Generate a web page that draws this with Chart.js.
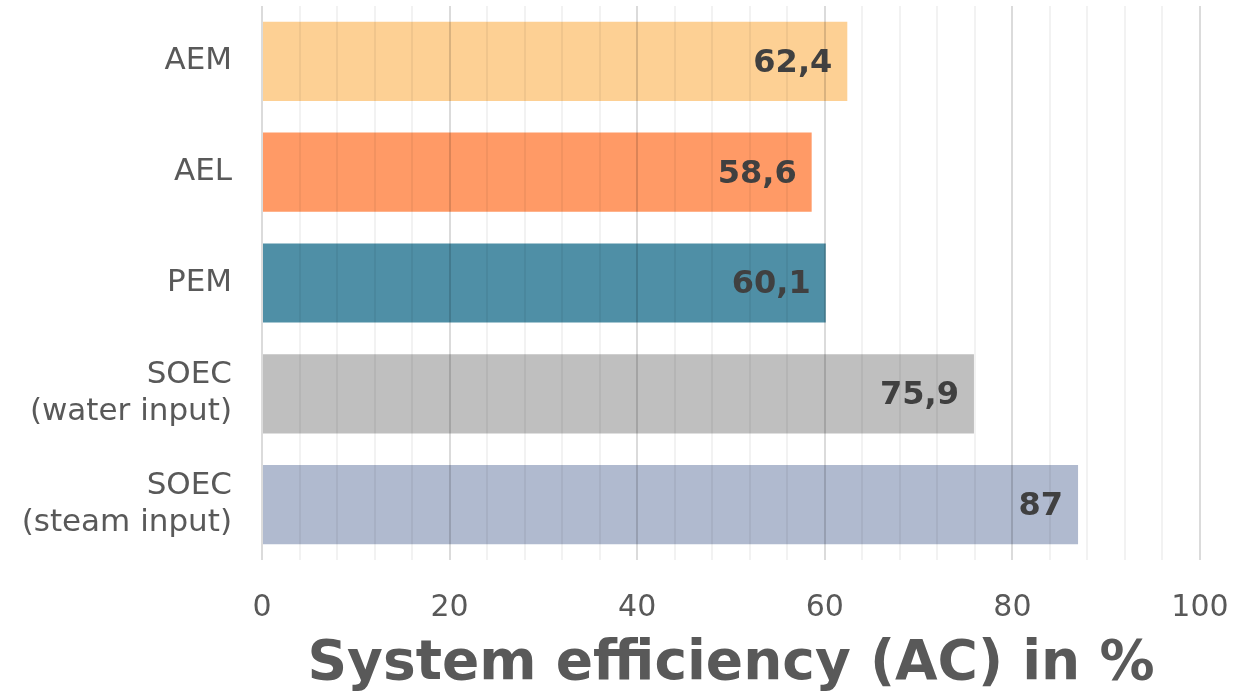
<!DOCTYPE html>
<html>
<head>
<meta charset="utf-8">
<script src="https://cdn.jsdelivr.net/npm/chart.js@4/dist/chart.umd.min.js"></script>
<style>
  html, body { margin: 0; padding: 0; background: #fff; }
  #wrap { width: 1233px; height: 694px; position: relative; }
</style>
</head>
<body>
<div id="wrap"><canvas id="c" width="1233" height="694"></canvas></div>
<script>
// Electrolyser technologies and their system efficiency (AC basis)
const categories = [
  ['AEM'],
  ['AEL'],
  ['PEM'],
  ['SOEC', '(water input)'],
  ['SOEC', '(steam input)']
];
const efficiency = [62.4, 58.6, 60.1, 75.9, 87];
const barColors = ['#FDD094', '#FF9A66', '#4F8FA6', '#BFBFBF', '#B0BACF'];
const xTicks = [0, 20, 40, 60, 80, 100];

const FONT = "'DejaVu Sans', Verdana, sans-serif";
const TEXT = '#595959';

// Value written inside the end of each bar, decimal comma
const valueLabels = {
  id: 'valueLabels',
  afterDraw(chart) {
    const ctx = chart.ctx;
    const meta = chart.getDatasetMeta(0);
    ctx.save();
    ctx.font = 'bold 32px ' + FONT;
    ctx.fillStyle = '#404040';
    ctx.textAlign = 'right';
    ctx.textBaseline = 'middle';
    meta.data.forEach((bar, i) => {
      const txt = String(efficiency[i]).replace('.', ',');
      ctx.fillText(txt, bar.x - 15, bar.y + 2);
    });
    ctx.restore();
  }
};

new Chart(document.getElementById('c'), {
  type: 'bar',
  data: {
    labels: categories,
    datasets: [{
      data: efficiency,
      backgroundColor: barColors,
      borderWidth: 0,
      barPercentage: 1,
      categoryPercentage: 0.715
    }]
  },
  options: {
    indexAxis: 'y',
    responsive: false,
    animation: false,
    layout: { padding: { top: 6, right: 33, bottom: 0, left: 0 } },
    plugins: { legend: { display: false }, tooltip: { enabled: false } },
    scales: {
      x: {
        min: 0,
        max: 100,
        afterFit: (s) => { s.height = 134; s.paddingLeft = 0; s.paddingRight = 0; },
        ticks: {
          stepSize: 4,
          autoSkip: false,
          maxRotation: 0,
          color: TEXT,
          font: { family: FONT, size: 30 },
          padding: 30,
          callback: (v) => xTicks.includes(v) ? String(v) : ''
        },
        grid: {
          z: 1,
          drawTicks: false,
          color: (c) => (c.tick && c.tick.value % 20 === 0) ? 'rgba(0,0,0,0.14)' : 'rgba(0,0,0,0.05)',
          lineWidth: 2
        },
        border: { display: false },
        title: {
          display: true,
          text: 'System efficiency (AC) in %',
          color: TEXT,
          font: { family: FONT, size: 55, weight: 'bold', lineHeight: 1.05 },
          padding: { top: 0, bottom: 0 }
        }
      },
      y: {
        afterFit: (s) => { s.width = 262; s.paddingTop = 0; s.paddingBottom = 0; },
        grid: { display: false, drawTicks: false },
        border: { display: false },
        ticks: {
          color: TEXT,
          padding: 30,
          font: { family: FONT, size: 31, lineHeight: 1.2 }
        }
      }
    }
  },
  plugins: [valueLabels]
});
</script>
</body>
</html>
